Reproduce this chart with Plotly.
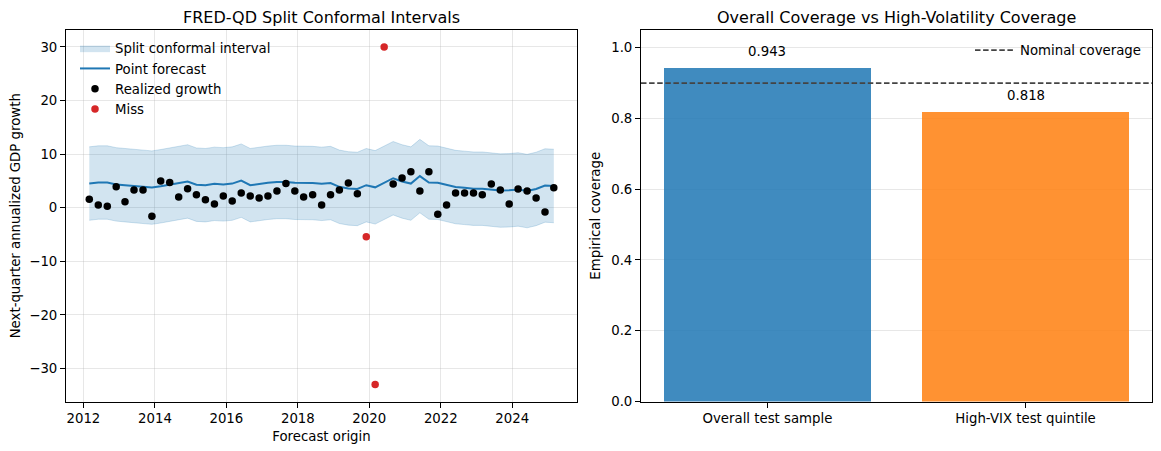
import numpy as np
import pandas as pd
import plotly.graph_objects as go

# ---------------- data ----------------
origins = pd.date_range("2012-03-01", periods=53, freq="3MS")

realized = [1.6, 0.5, 0.25, 3.9, 1.1, 3.3, 3.3, -1.6, 5.0, 4.7,
            2.0, 3.55, 2.4, 1.5, 0.7, 2.2, 1.25, 2.75, 2.2, 1.8,
            2.2, 3.1, 4.5, 3.1, 2.0, 2.4, 0.5, 2.4, 3.3, 4.6,
            2.6, -5.4, -33.0, 30.0, 4.4, 5.55, 6.7, 3.1, 6.7, -1.2,
            0.5, 2.75, 2.75, 2.75, 2.4, 4.4, 3.3, 0.7, 3.5, 3.1,
            1.8, -0.8, 3.7]

forecast = [4.5, 4.7, 4.7, 4.35, 4.2, 4.05, 3.85, 3.75, 4.0, 4.3,
            4.5, 4.9, 4.3, 4.2, 4.45, 4.35, 4.5, 5.05, 4.2, 4.45,
            4.65, 4.8, 4.8, 4.65, 4.65, 4.6, 4.45, 4.6, 3.9, 3.6,
            3.5, 4.2, 3.8, 4.65, 5.5, 4.9, 4.5, 5.9, 4.7, 4.65,
            4.2, 3.85, 3.7, 3.55, 3.55, 3.35, 3.2, 3.25, 3.4, 3.1,
            3.5, 4.15, 4.05]

half_width = 6.85  # split conformal quantile

coverage_labels = ["Overall test sample", "High-VIX test quintile"]
coverage_values = [0.943, 0.818]
nominal = 0.90

# ---------------- derived ----------------
fc = np.array(forecast)
lower = fc - half_width
upper = fc + half_width
y = np.array(realized)
miss = (y < lower) | (y > upper)

FONT = "DejaVu Sans"
FS = 13.3
BLUE = "#1f77b4"

fig = go.Figure()

# band
fig.add_trace(go.Scatter(x=origins, y=upper, mode="lines",
                         line=dict(color="rgba(31,119,180,0.2)", width=1),
                         showlegend=False, hoverinfo="skip",
                         xaxis="x", yaxis="y"))
fig.add_trace(go.Scatter(x=origins, y=lower, mode="lines",
                         line=dict(color="rgba(31,119,180,0.2)", width=1),
                         fill="tonexty", fillcolor="rgba(31,119,180,0.2)",
                         name="Split conformal interval", legend="legend",
                         xaxis="x", yaxis="y"))
fig.add_trace(go.Scatter(x=origins, y=fc, mode="lines",
                         line=dict(color=BLUE, width=2),
                         name="Point forecast", legend="legend",
                         xaxis="x", yaxis="y"))
fig.add_trace(go.Scatter(x=origins[~miss], y=y[~miss], mode="markers",
                         marker=dict(color="black", size=7.5),
                         name="Realized growth", legend="legend",
                         xaxis="x", yaxis="y"))
fig.add_trace(go.Scatter(x=origins[miss], y=y[miss], mode="markers",
                         marker=dict(color="#d62728", size=7.5),
                         name="Miss", legend="legend",
                         xaxis="x", yaxis="y"))

# bars
fig.add_trace(go.Bar(x=[0, 1], y=coverage_values, width=0.8,
                     marker=dict(color=["rgba(31,119,180,0.85)", "rgba(255,127,14,0.85)"],
                                 line=dict(width=0)),
                     showlegend=False, xaxis="x2", yaxis="y2"))

for i, v in enumerate(coverage_values):
    fig.add_annotation(x=i, y=v + 0.02, xref="x2", yref="y2", text=f"{v:.3f}",
                       showarrow=False, yanchor="bottom",
                       font=dict(family=FONT, size=FS, color="black"))

fig.add_shape(type="line", xref="x2 domain", yref="y2", x0=0, x1=1, y0=nominal, y1=nominal,
              line=dict(color="#444444", width=1.8, dash="5.5px,2.6px"),
              showlegend=True, name="Nominal coverage", legend="legend2")

axis_common = dict(showline=True, linecolor="black", linewidth=1, mirror=True,
                   ticks="outside", ticklen=5, tickcolor="black",
                   tickfont=dict(family=FONT, size=FS, color="black"),
                   zeroline=False, automargin=False)

L0, L1 = 66, 577
R0, R1 = 641, 1152
T, B = 30, 401.5

fig.update_layout(
    width=1161, height=451,
    margin=dict(l=0, r=0, t=0, b=0),
    paper_bgcolor="white", plot_bgcolor="white",
    font=dict(family=FONT, size=FS, color="black"),
    xaxis=dict(domain=[L0/1161, L1/1161], anchor="y", type="date",
               range=["2011-07-07", "2025-10-24"], tick0="2012-01-01", dtick="M24",
               tickformat="%Y", showgrid=True, gridcolor="rgba(176,176,176,0.3)",
               title=dict(text="Forecast origin", font=dict(family=FONT, size=FS), standoff=6),
               **axis_common),
    yaxis=dict(domain=[1-B/451, 1-T/451], anchor="x",
               range=[-36.15, 33.15], tickvals=[-30, -20, -10, 0, 10, 20, 30],
               showgrid=True, gridcolor="rgba(176,176,176,0.3)",
               title=dict(text="Next-quarter annualized GDP growth", font=dict(family=FONT, size=FS), standoff=5),
               **axis_common),
    xaxis2=dict(domain=[R0/1161, R1/1161], anchor="y2",
                range=[-0.49, 1.49], tickvals=[0, 1], ticktext=coverage_labels,
                showgrid=False, **axis_common),
    yaxis2=dict(domain=[1-B/451, 1-T/451], anchor="x2",
                range=[0, 1.05], tickvals=[0, 0.2, 0.4, 0.6, 0.8, 1.0], tickformat=".1f",
                showgrid=True, gridcolor="rgba(176,176,176,0.3)",
                title=dict(text="Empirical coverage", font=dict(family=FONT, size=FS), standoff=7),
                **axis_common),
    legend=dict(x=75/1161, y=1-33/451, xanchor="left", yanchor="top",
                bgcolor="rgba(0,0,0,0)", font=dict(family=FONT, size=FS),
                tracegroupgap=0, itemwidth=30, traceorder="normal"),
    legend2=dict(x=1146/1161, y=1-35/451, xanchor="right", yanchor="top",
                 bgcolor="rgba(0,0,0,0)", font=dict(family=FONT, size=FS), itemwidth=40),
    annotations=list(fig.layout.annotations) + [
        dict(text="FRED-QD Split Conformal Intervals", x=(L0+L1)/2/1161, y=1-17/451,
             xref="paper", yref="paper", showarrow=False, xanchor="center", yanchor="middle",
             font=dict(family=FONT, size=16, color="black")),
        dict(text="Overall Coverage vs High-Volatility Coverage", x=(R0+R1)/2/1161, y=1-17/451,
             xref="paper", yref="paper", showarrow=False, xanchor="center", yanchor="middle",
             font=dict(family=FONT, size=16, color="black")),
    ],
    bargap=0,
)

fig.write_html("out.html", config={"displayModeBar": False},
               post_script="document.body.style.margin='0px';")
